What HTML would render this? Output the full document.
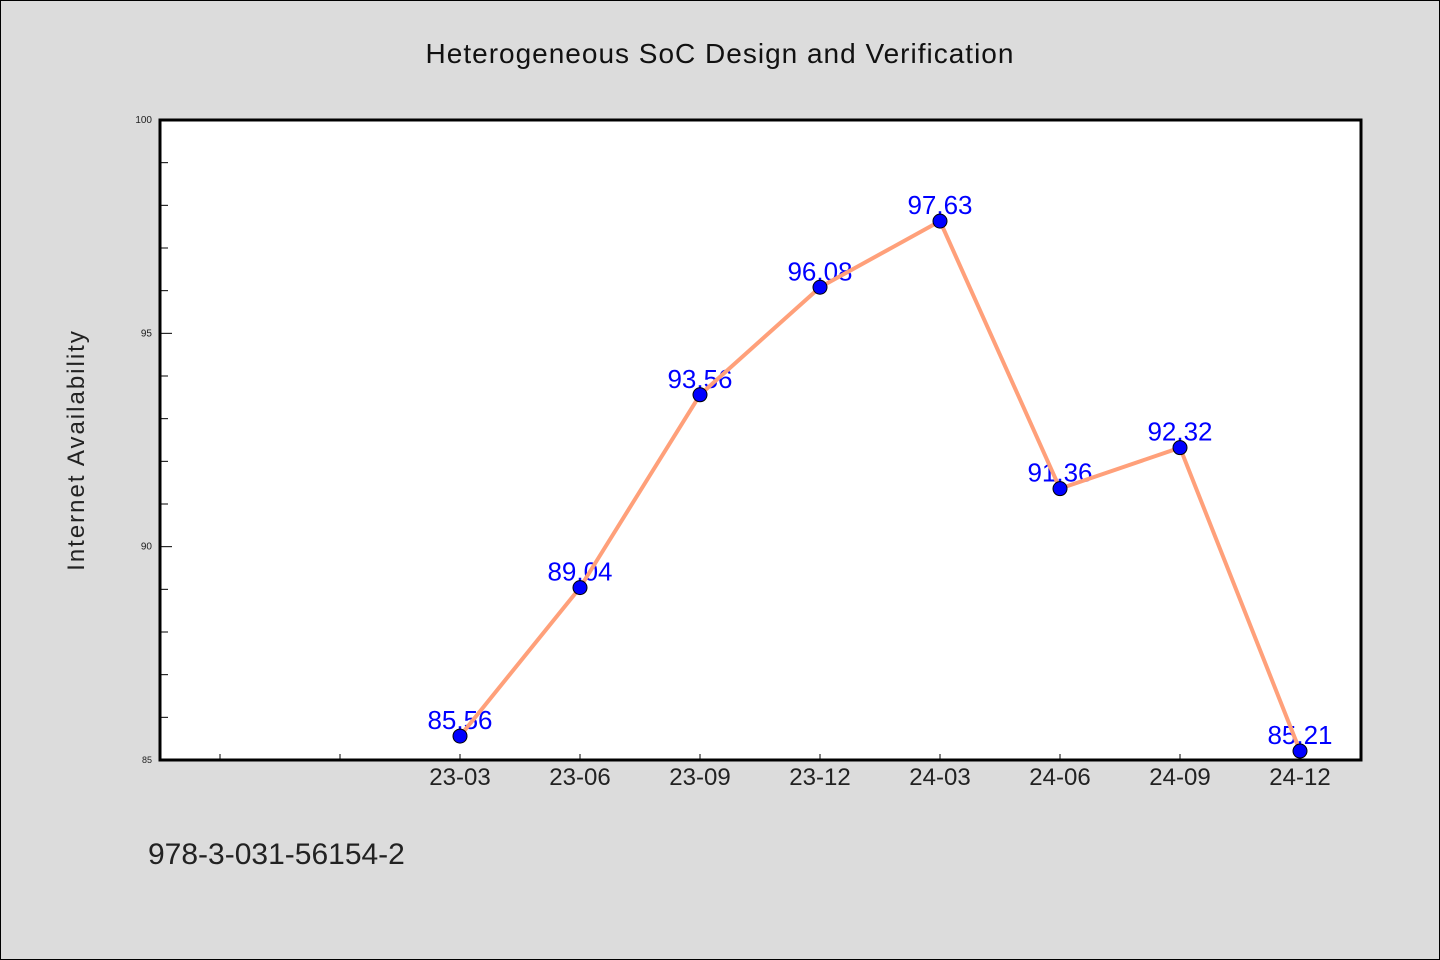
<!DOCTYPE html>
<html><head><meta charset="utf-8"><style>
body{margin:0;background:#dcdcdc;}
svg{display:block;font-family:"WenQuanYi Zen Hei","Liberation Sans",sans-serif;}
</style></head><body>
<svg id="chart" width="1440" height="960" xmlns="http://www.w3.org/2000/svg">
<rect x="0.5" y="0.5" width="1439" height="959" fill="#dcdcdc" stroke="#000" stroke-width="1"/>
<text x="720" y="63" text-anchor="middle" font-size="28" fill="#111" letter-spacing="1">Heterogeneous SoC Design and Verification</text>
<rect x="160" y="120" width="1201" height="640" fill="#fff" stroke="#000" stroke-width="3"/>
<text transform="translate(84,450) rotate(-90)" text-anchor="middle" font-size="24" fill="#222" letter-spacing="2">Internet Availability</text>
<text x="148" y="864" font-size="30" fill="#222">978-3-031-56154-2</text>
<g id="ticks"></g><g id="labels"></g><g id="series"></g>
</svg>
<script>
const categories=["23-03","23-06","23-09","23-12","24-03","24-06","24-09","24-12"];
const values=[85.56,89.04,93.56,96.08,97.63,91.36,92.32,85.21];
const yTicks=[85,90,95,100];
const yMin=85,yMax=100;
const NS="http://www.w3.org/2000/svg";
const X0=160,X1=1361,Y0=760,Y1=120;
function y(v){return Y0-(v-yMin)/(yMax-yMin)*(Y0-Y1);}
function x(i){return 460+120*i;}
function mk(t,a,p){const e=document.createElementNS(NS,t);for(const k in a)e.setAttribute(k,a[k]);p.appendChild(e);return e;}
const tg=document.getElementById('ticks'),lg=document.getElementById('labels'),sg=document.getElementById('series');
for(let v=yMin+1;v<yMax;v++){const major=yTicks.includes(v);
 const l=mk('line',{x1:X0,x2:X0+(major?12:8),y1:y(v),y2:y(v),stroke:'#000','stroke-width':1},tg);
 
 }
yTicks.forEach(v=>{const t=mk('text',{x:152,y:y(v)+3,'text-anchor':'end','font-size':v===yMin?9:10,fill:'#222'},tg);t.textContent=v;
 
 });
for(let i=-2;i<categories.length;i++){const l=mk('line',{x1:x(i),x2:x(i),y1:Y0,y2:Y0-6,stroke:'#000','stroke-width':1},tg);
 
 }
categories.forEach((c,i)=>{const t=mk('text',{x:x(i),y:785,'text-anchor':'middle','font-size':24,fill:'#222'},tg);t.textContent=c;
 
 });
values.forEach((v,i)=>{const t=mk('text',{x:x(i),y:y(v)-7,'text-anchor':'middle','font-size':26,fill:'#0000ff'},lg);t.textContent=v.toFixed(2);
 
 });
const pl=mk('polyline',{points:values.map((v,i)=>x(i)+','+y(v)).join(' '),fill:'none',stroke:'#ffa07a','stroke-width':4,'stroke-linejoin':'round'},sg);


values.forEach((v,i)=>{const c=mk('circle',{cx:x(i),cy:y(v),r:7,fill:'#0000ff',stroke:'#000','stroke-width':1},sg);
 
 });
</script>
</body></html>
